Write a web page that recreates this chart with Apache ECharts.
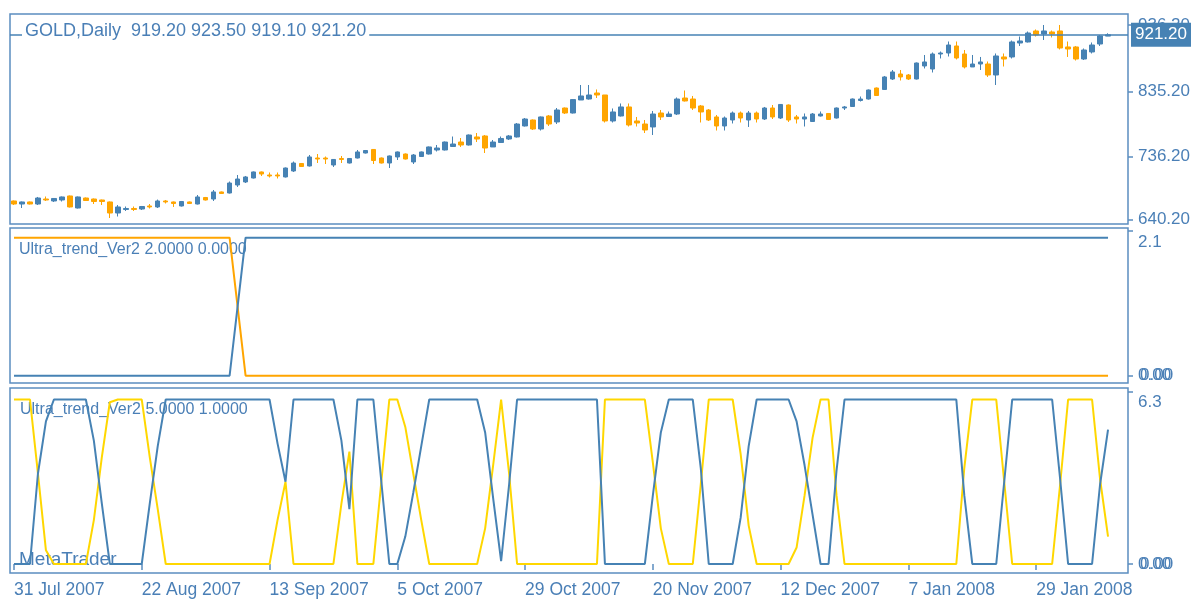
<!DOCTYPE html>
<html>
<head>
<meta charset="utf-8">
<title>GOLD,Daily</title>
<script src="https://cdn.jsdelivr.net/npm/echarts@6/dist/echarts.min.js"></script>
<style>
  html, body { margin: 0; padding: 0; background: #fff; }
  #chart { width: 1196px; height: 603px; }
</style>
</head>
<body>
<div id="chart"></div>
<script>
// trading days on the chart (weekdays, no Christmas / New Year bar)
const firstDay = '2007-07-31'
const barCount = 138
const emptySlots = 2
const holidays = ['25 Dec 2007', '1 Jan 2008']
const monthNames = ['Jan', 'Feb', 'Mar', 'Apr', 'May', 'Jun', 'Jul', 'Aug', 'Sep', 'Oct', 'Nov', 'Dec']

// GOLD daily candles: [open, close, low, high]
const candles = [
  [668.6, 664.0, 662.5, 669.3], [664.0, 667.1, 657.9, 667.8], [667.1, 664.0, 663.3, 667.8], [664.0, 673.1, 662.5, 674.7],
  [671.6, 670.1, 668.6, 675.4], [668.6, 672.4, 667.1, 673.1], [670.1, 674.7, 667.8, 675.4], [676.2, 659.5, 658.7, 676.9],
  [657.9, 674.7, 657.2, 675.4], [673.1, 669.3, 668.6, 673.9], [671.6, 667.8, 664.0, 672.4], [670.1, 667.8, 662.5, 670.7],
  [667.1, 650.3, 642.7, 667.8], [650.3, 659.5, 645.0, 662.5], [655.7, 657.2, 653.4, 660.2], [657.2, 655.7, 653.4, 660.2],
  [656.4, 660.2, 654.9, 661.0], [661.0, 659.5, 657.2, 664.0], [659.5, 668.6, 657.9, 670.7], [668.6, 667.1, 664.8, 670.1],
  [667.1, 664.8, 659.5, 667.8], [661.0, 667.8, 660.2, 668.6], [667.1, 664.8, 664.0, 667.8], [664.0, 674.7, 663.3, 677.7],
  [673.9, 670.1, 669.3, 674.7], [671.6, 682.3, 668.6, 685.3], [682.3, 680.0, 679.2, 683.0], [680.7, 695.9, 680.0, 698.2],
  [692.9, 702.0, 689.9, 708.1], [697.5, 705.1, 695.9, 706.6], [703.5, 712.7, 702.8, 713.4], [712.7, 709.6, 706.6, 713.4],
  [708.1, 706.6, 704.3, 711.9], [708.1, 706.6, 702.8, 711.9], [705.1, 718.7, 704.3, 719.5], [714.2, 726.3, 712.7, 728.6],
  [725.6, 721.0, 720.3, 726.3], [721.8, 735.5, 721.0, 738.5], [733.9, 732.4, 726.3, 740.0], [733.9, 732.4, 724.8, 736.2],
  [723.3, 731.7, 720.3, 732.4], [733.2, 731.7, 726.3, 737.0], [726.3, 733.2, 725.6, 733.9], [733.9, 743.1, 733.2, 746.1],
  [741.5, 745.3, 740.8, 746.1], [746.9, 730.1, 724.8, 747.6], [733.9, 726.3, 725.6, 734.7], [726.3, 737.0, 718.7, 737.7],
  [735.5, 743.1, 730.9, 743.8], [740.0, 732.4, 731.7, 740.8], [727.9, 738.5, 724.8, 740.0], [736.2, 743.1, 735.5, 743.8],
  [740.0, 750.7, 739.3, 751.4], [746.1, 749.1, 743.8, 753.7], [746.1, 758.2, 745.3, 759.0], [751.4, 755.2, 750.7, 766.6],
  [758.2, 753.7, 750.7, 764.3], [753.7, 768.9, 752.9, 769.7], [765.9, 762.8, 758.2, 771.9], [767.4, 749.1, 741.5, 768.9],
  [750.7, 758.2, 750.7, 761.3], [757.5, 763.6, 756.7, 766.6], [762.8, 767.4, 761.3, 768.9], [765.9, 785.6, 765.1, 787.1],
  [782.6, 793.2, 781.8, 794.7], [791.7, 778.0, 776.5, 792.5], [778.0, 796.3, 775.7, 797.0], [797.8, 785.6, 782.6, 799.3],
  [788.7, 806.9, 785.6, 809.9], [809.9, 802.3, 800.8, 810.7], [802.3, 822.7, 801.6, 823.6], [822.1, 828.2, 822.1, 844.9],
  [823.6, 829.7, 822.7, 844.9], [832.7, 829.7, 825.1, 838.1], [829.7, 790.2, 787.9, 829.7], [790.2, 803.9, 787.9, 809.2],
  [797.8, 811.5, 797.0, 816.8], [811.5, 784.1, 781.8, 816.8], [790.2, 787.1, 781.8, 796.3], [785.6, 776.5, 771.9, 791.7],
  [781.1, 800.8, 768.9, 805.4], [802.3, 796.3, 791.7, 806.9], [797.0, 800.8, 797.0, 804.6], [800.8, 823.6, 799.3, 825.9],
  [825.1, 820.6, 819.8, 836.5], [823.6, 809.9, 806.9, 828.2], [813.0, 803.9, 787.9, 814.5], [806.9, 791.7, 790.2, 808.4],
  [796.3, 782.6, 775.7, 799.3], [782.6, 794.7, 775.7, 797.0], [791.7, 802.3, 786.4, 804.6], [802.3, 794.7, 787.9, 804.6],
  [791.7, 802.3, 781.1, 805.4], [802.3, 793.2, 787.9, 804.6], [793.2, 809.9, 791.7, 811.5], [809.9, 796.3, 793.2, 814.5],
  [794.7, 815.3, 793.2, 816.0], [814.5, 791.7, 788.7, 815.3], [796.3, 793.2, 786.4, 799.3], [793.2, 796.3, 781.8, 801.6],
  [789.4, 800.8, 788.7, 802.3], [797.8, 800.8, 797.0, 804.6], [801.6, 792.5, 791.7, 802.3], [794.7, 809.9, 794.0, 810.7],
  [809.9, 811.5, 806.9, 813.0], [812.2, 823.6, 812.2, 824.4], [821.3, 823.6, 819.8, 827.4], [823.6, 837.3, 822.7, 838.1],
  [840.3, 828.9, 828.2, 841.1], [838.1, 857.1, 837.3, 858.6], [854.0, 864.7, 852.5, 867.7], [861.6, 857.1, 851.7, 867.7],
  [860.1, 854.0, 852.5, 861.6], [854.0, 878.3, 853.3, 879.1], [873.8, 879.9, 870.0, 890.5], [869.2, 892.0, 863.9, 894.3],
  [892.0, 893.5, 885.2, 895.8], [893.5, 905.7, 888.2, 911.0], [904.2, 885.9, 883.7, 911.0], [892.0, 872.3, 870.0, 898.1],
  [872.3, 876.8, 872.3, 890.5], [876.8, 879.9, 867.7, 887.5], [876.8, 860.1, 857.1, 880.6], [860.1, 889.0, 844.9, 892.8],
  [887.5, 884.4, 873.0, 892.8], [887.5, 910.3, 885.2, 912.5], [908.7, 911.8, 904.2, 918.6], [910.3, 923.9, 909.5, 926.2],
  [927.0, 920.9, 918.6, 929.3], [922.4, 927.0, 913.3, 936.1], [925.5, 922.4, 917.1, 927.7], [927.0, 901.1, 898.9, 936.1],
  [902.7, 899.6, 887.5, 911.0], [902.7, 884.4, 882.1, 904.2], [884.4, 898.1, 882.9, 900.4], [895.1, 905.7, 892.8, 909.5],
  [907.2, 919.4, 904.2, 920.9], [919.2, 921.2, 919.1, 923.5]
]

// Ultra_trend_Ver2 (2, 0) - orange and blue lines
const ut1Orange = [
  2, 2, 2, 2, 2, 2, 2, 2, 2, 2, 2, 2, 2, 2, 2, 2, 2, 2, 2, 2,
  2, 2, 2, 2, 2, 2, 2, 2, 1, 0, 0, 0, 0, 0, 0, 0, 0, 0, 0, 0,
  0, 0, 0, 0, 0, 0, 0, 0, 0, 0, 0, 0, 0, 0, 0, 0, 0, 0, 0, 0,
  0, 0, 0, 0, 0, 0, 0, 0, 0, 0, 0, 0, 0, 0, 0, 0, 0, 0, 0, 0,
  0, 0, 0, 0, 0, 0, 0, 0, 0, 0, 0, 0, 0, 0, 0, 0, 0, 0, 0, 0,
  0, 0, 0, 0, 0, 0, 0, 0, 0, 0, 0, 0, 0, 0, 0, 0, 0, 0, 0, 0,
  0, 0, 0, 0, 0, 0, 0, 0, 0, 0, 0, 0, 0, 0, 0, 0, 0, 0
]
const ut1Blue = [
  0, 0, 0, 0, 0, 0, 0, 0, 0, 0, 0, 0, 0, 0, 0, 0, 0, 0, 0, 0,
  0, 0, 0, 0, 0, 0, 0, 0, 1, 2, 2, 2, 2, 2, 2, 2, 2, 2, 2, 2,
  2, 2, 2, 2, 2, 2, 2, 2, 2, 2, 2, 2, 2, 2, 2, 2, 2, 2, 2, 2,
  2, 2, 2, 2, 2, 2, 2, 2, 2, 2, 2, 2, 2, 2, 2, 2, 2, 2, 2, 2,
  2, 2, 2, 2, 2, 2, 2, 2, 2, 2, 2, 2, 2, 2, 2, 2, 2, 2, 2, 2,
  2, 2, 2, 2, 2, 2, 2, 2, 2, 2, 2, 2, 2, 2, 2, 2, 2, 2, 2, 2,
  2, 2, 2, 2, 2, 2, 2, 2, 2, 2, 2, 2, 2, 2, 2, 2, 2, 2
]

// Ultra_trend_Ver2 (5, 1) - blue and yellow lines
const ut2Blue = [
  0, 0, 0, 3.3, 5.2, 6, 6, 6, 6, 6,
  4.5, 2.2, 0, 0, 0, 0, 0, 2.2, 4.3, 6,
  6, 6, 6, 6, 6, 6, 6, 6, 6, 6,
  6, 6, 6, 4.4, 3.0, 6, 6, 6, 6, 6,
  6, 4.5, 2.0, 6, 6, 6, 3.0, 0, 0, 1.0,
  2.6, 4.3, 6, 6, 6, 6, 6, 6, 6, 4.8,
  2.4, 0.1, 2.9, 6, 6, 6, 6, 6, 6, 6,
  6, 6, 6, 6, 0, 0, 0, 0, 0, 0,
  2.5, 4.8, 6, 6, 6, 6, 3.5, 0, 0, 0,
  0, 1.7, 4.3, 6, 6, 6, 6, 6, 5.2, 3.6,
  1.8, 0, 0, 3.4, 6, 6, 6, 6, 6, 6,
  6, 6, 6, 6, 6, 6, 6, 6, 6, 2.5,
  0, 0, 0, 0, 3.0, 6, 6, 6, 6, 6,
  6, 3.1, 0, 0, 0, 0, 2.9, 4.9
]
const ut2Yellow = [
  6, 6, 6, 3.3, 0.5, 0, 0, 0, 0, 0,
  1.6, 3.9, 5.9, 6, 6, 6, 6, 3.9, 2.0, 0,
  0, 0, 0, 0, 0, 0, 0, 0, 0, 0,
  0, 0, 0, 1.6, 3.0, 0, 0, 0, 0, 0,
  0, 2.2, 4.1, 0, 0, 0, 3.0, 6, 6, 5.0,
  3.3, 1.6, 0, 0, 0, 0, 0, 0, 0, 1.3,
  3.6, 6, 3.3, 0, 0, 0, 0, 0, 0, 0,
  0, 0, 0, 0, 6, 6, 6, 6, 6, 6,
  3.7, 1.3, 0, 0, 0, 0, 2.9, 6, 6, 6,
  6, 4.0, 1.4, 0, 0, 0, 0, 0, 0.6, 2.5,
  4.6, 6, 6, 2.5, 0, 0, 0, 0, 0, 0,
  0, 0, 0, 0, 0, 0, 0, 0, 0, 3.5,
  6, 6, 6, 6, 3.0, 0, 0, 0, 0, 0,
  0, 2.9, 6, 6, 6, 6, 3.1, 1.0
]

// axis tick values
const priceTicks = [640.2, 736.2, 835.2, 936.2]
const ut1Ticks = [0, 2.1]
const ut2Ticks = [0, 6.3]
const zeroTicks = [0]
const lastBar = candles[candles.length - 1]

const blue = '#4682B4'
const orange = '#FFA500'
const yellow = '#FFD700'
const frame = '#5b8dc0'
const textBlue = '#4a7fb6'
const font = 'Liberation Sans, Arial, sans-serif'

function tradingDays() {
  const out = []
  const d = new Date(firstDay + 'T00:00:00Z')
  while (out.length < barCount) {
    const wd = d.getUTCDay()
    const label = d.getUTCDate() + ' ' + monthNames[d.getUTCMonth()] + ' ' + d.getUTCFullYear()
    if (wd !== 0 && wd !== 6 && holidays.indexOf(label) < 0) out.push(label)
    d.setUTCDate(d.getUTCDate() + 1)
  }
  return out
}
const categories = tradingDays().concat(new Array(emptySlots).fill(''))

const chart = echarts.init(document.getElementById('chart'))

const gridBase = {left: 10, width: 1118, show: true, borderColor: frame, borderWidth: 1.5}
const hiddenX = (i) => ({
  type: 'category', gridIndex: i, data: categories, boundaryGap: true,
  axisLine: {show: false}, axisTick: {show: false}, axisLabel: {show: false}
})
const rightY = (i, min, max, ticks, formatter, margin) => ({
  type: 'value', gridIndex: i, position: 'right', min: min, max: max,
  splitLine: {show: false},
  axisLine: {show: false},
  axisTick: {show: true, length: 5, customValues: ticks, lineStyle: {color: frame, width: 1.5}},
  axisLabel: {
    customValues: ticks, margin: margin || 10, color: textBlue, fontSize: 17, fontFamily: font,
    formatter: formatter,
    rich: {lo: {padding: [22, 0, 0, 0], color: textBlue, fontSize: 17, fontFamily: font}}
  }
})
const smallLabel = (v) => v === 0 ? '0.00' : '{lo|' + v.toFixed(1) + '}'

// MT4 prints a second zero label over the first one in each indicator window
const ghostZero = (i, min, max) => {
  const ax = rightY(i, min, max, zeroTicks, () => '0.00', 12)
  ax.axisTick.show = false
  return ax
}

const option = {
  animation: false,
  backgroundColor: '#fff',
  grid: [
    Object.assign({top: 14, height: 210}, gridBase),
    Object.assign({top: 228, height: 155}, gridBase),
    Object.assign({top: 388, height: 185}, gridBase)
  ],
  xAxis: [
    hiddenX(0),
    hiddenX(1),
    {
      type: 'category', gridIndex: 2, data: categories, boundaryGap: true,
      axisLine: {show: false},
      axisTick: {show: true, interval: 15, alignWithLabel: true, length: 6, lineStyle: {color: frame, width: 1.5}},
      axisLabel: {interval: 15, align: 'left', margin: 8, color: textBlue, fontSize: 17.5, fontFamily: font}
    }
  ],
  yAxis: [
    rightY(0, 633.6, 952.8, priceTicks, (v) => v.toFixed(2)),
    rightY(1, -0.106, 2.141, ut1Ticks, smallLabel),
    rightY(2, -0.329, 6.42, ut2Ticks, smallLabel),
    ghostZero(1, -0.106, 2.141),
    ghostZero(2, -0.329, 6.42)
  ],
  graphic: [
    {type: 'text', x: 22, y: 31.5, z: 100, style: {
      text: 'GOLD,Daily  ' + lastBar[0].toFixed(2) + ' ' + lastBar[3].toFixed(2) + ' ' + lastBar[2].toFixed(2) + ' ' + lastBar[1].toFixed(2),
      fill: textBlue, font: '18px ' + font, verticalAlign: 'middle', textVerticalAlign: 'middle',
      backgroundColor: '#fff', padding: [2, 3]
    }},
    {type: 'text', x: 19, y: 250, z: 0, style: {
      text: 'Ultra_trend_Ver2 2.0000 0.0000', fill: textBlue, font: '16px ' + font,
      verticalAlign: 'middle', textVerticalAlign: 'middle'
    }},
    {type: 'text', x: 20, y: 410, z: 0, style: {
      text: 'Ultra_trend_Ver2 5.0000 1.0000', fill: textBlue, font: '16px ' + font,
      verticalAlign: 'middle', textVerticalAlign: 'middle'
    }},
    {type: 'text', x: 19, y: 560, z: 0, style: {
      text: 'MetaTrader', fill: textBlue, font: '19px ' + font,
      verticalAlign: 'middle', textVerticalAlign: 'middle'
    }}
  ],
  series: [
    {
      type: 'candlestick', xAxisIndex: 0, yAxisIndex: 0, data: candles, barWidth: 5,
      itemStyle: {color: blue, color0: orange, borderColor: blue, borderColor0: orange, borderWidth: 1},
      markLine: {
        silent: true, symbol: 'none', animation: false,
        lineStyle: {color: blue, width: 1.5, type: 'solid'},
        label: {
          position: 'end', distance: 3, formatter: lastBar[1].toFixed(2),
          backgroundColor: blue, color: '#fff', padding: [4, 4, 3, 4], fontSize: 17, fontFamily: font
        },
        data: [{yAxis: lastBar[1]}]
      }
    },
    {type: 'line', xAxisIndex: 1, yAxisIndex: 1, data: ut1Orange, symbol: 'none', lineStyle: {color: orange, width: 2}, itemStyle: {color: orange}},
    {type: 'line', xAxisIndex: 1, yAxisIndex: 1, data: ut1Blue, symbol: 'none', lineStyle: {color: blue, width: 2}, itemStyle: {color: blue}},
    {type: 'line', xAxisIndex: 2, yAxisIndex: 2, data: ut2Yellow, symbol: 'none', lineStyle: {color: yellow, width: 2}, itemStyle: {color: yellow}},
    {type: 'line', xAxisIndex: 2, yAxisIndex: 2, data: ut2Blue, symbol: 'none', lineStyle: {color: blue, width: 2}, itemStyle: {color: blue}}
  ]
}

option && chart.setOption(option)
</script>
</body>
</html>
